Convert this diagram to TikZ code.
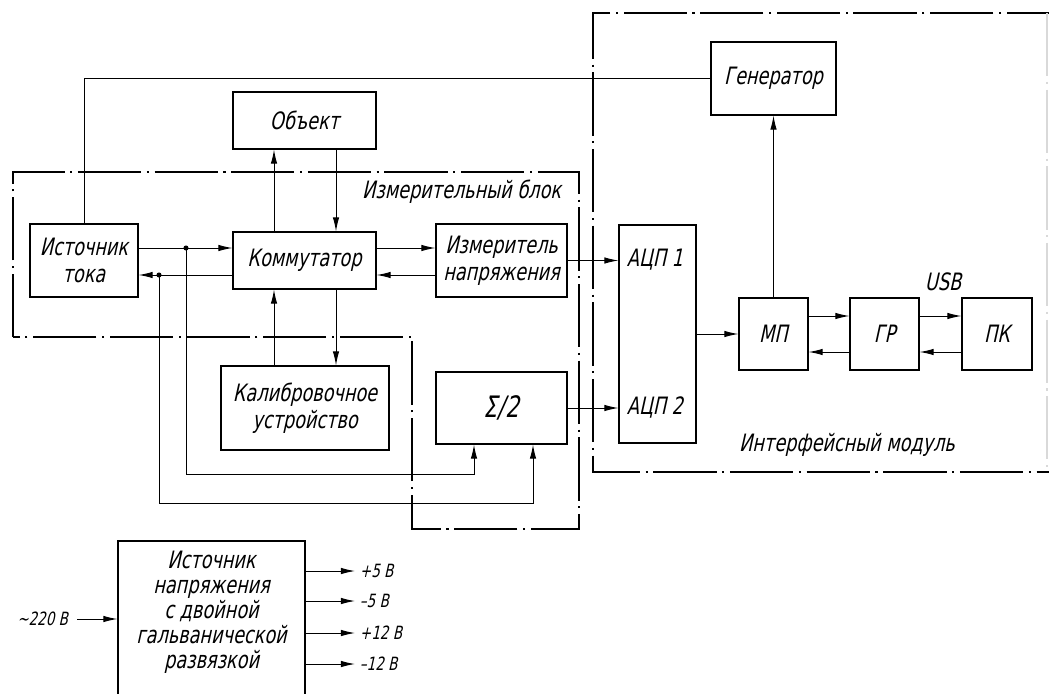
\documentclass[tikz,border=0pt]{standalone}
\usepackage{fontspec}
\setmainfont[FakeSlant=0.22,FakeStretch=0.74]{DejaVu Sans}
\usetikzlibrary{arrows.meta}

\begin{document}
\begin{tikzpicture}[x=0.025cm, y=-0.025cm,
    font=\fontsize{17}{19.5}\selectfont,
    blk/.style={draw, line width=0.8pt, inner sep=0pt, align=center},
    sz/.style 2 args={minimum width=#1*0.025cm, minimum height=#2*0.025cm},
    small/.style={font=\fontsize{13}{15}\selectfont},
    wire/.style={line width=0.7pt},
    arr/.style={wire, -{Latex[length=10pt,width=4.6pt]}},
    blockline/.style={line width=1.5pt, dash pattern=on 45pt off 4pt on 1.5pt off 4pt},
    jdot/.style={circle, fill, inner sep=0pt, minimum size=3.6pt}]
\clip (0,0) rectangle (1049,694);

% dash-dot frames
\draw[blockline] (13,337) -- (13,172) -- (579,172) -- (579,529) -- (412,529) -- (412,337) -- cycle;
\draw[blockline] (1070,13) -- (593,13) -- (593,472) -- (1070,472);
\draw[blockline, black!15, line width=1pt] (1047,13) -- (1047,472);

% measuring unit
\node[blk, sz={143}{57}] (obj) at (304.5,120.5) {Объект};
\node[blk, sz={108}{73}] (src) at (84,260.5) {Источник\\тока};
\node[blk, sz={143}{57}] (kom) at (304.5,260.5) {Коммутатор};
\node[blk, sz={131}{73}] (meas) at (501.5,260.5) {Измеритель\\напряжения};
\node[blk, sz={168}{84}] (cal) at (305,408) {Калибровочное\\устройство};
\node[blk, sz={131}{72}, font=\fontsize{21}{24}\selectfont] (sum) at (501.5,408) {Σ/2};
\node[anchor=east] (mbl) at (566,192) {Измерительный блок};

% interface module
\node[blk, sz={77}{218}] (adc) at (657.5,334) {};
\node[anchor=west] (adc1) at (622,260) {АЦП 1};
\node[anchor=west] (adc2) at (622,408) {АЦП 2};
\node[blk, sz={125}{73}] (gen) at (773.5,78.5) {Генератор};
\node[blk, sz={69}{72}] (mp) at (773.5,334) {МП};
\node[blk, sz={69}{72}] (gr) at (884.5,334) {ГР};
\node[blk, sz={70}{72}] (pc) at (997,334) {ПК};
\node (usb) at (943,282) {USB};
\node (ifm) at (847,445) {Интерфейсный модуль};

% power supply
\node[blk, sz={187}{160}] (psu) at (211.5,621) {};
\node[align=center, font=\fontsize{17}{17.8}\selectfont] (psutxt) at (211.5,612)
  {Источник\\напряжения\\с двойной\\гальванической\\развязкой};
\node[small, anchor=east] (ac) at (73,619) {\textasciitilde220 В};

% helper points
\coordinate (cL) at (274,0);
\coordinate (cR) at (336,0);
\coordinate (rA) at (0,248);
\coordinate (rB) at (0,275);
\coordinate (rU) at (0,316);
\coordinate (rD) at (0,352);
\coordinate (k1) at (474,474);
\coordinate (k2) at (533,503);
\node[jdot] (j1) at (186,248) {};
\node[jdot] (j2) at (159,275) {};

% links
\draw[wire] (gen.west) -| (src.north);
\draw[arr] (kom.north -| cL) -- (obj.south -| cL);
\draw[arr] (obj.south -| cR) -- (kom.north -| cR);
\draw[arr] (cal.north -| cL) -- (kom.south -| cL);
\draw[arr] (kom.south -| cR) -- (cal.north -| cR);
\draw[arr] (src.east |- rA) -- (kom.west |- rA);
\draw[arr] (kom.west |- rB) -- (src.east |- rB);
\draw[arr] (kom.east |- rA) -- (meas.west |- rA);
\draw[arr] (meas.west |- rB) -- (kom.east |- rB);
\draw[arr] (j1.center) |- (k1) -- (k1 |- sum.south);
\draw[arr] (j2.center) |- (k2) -- (k2 |- sum.south);
\draw[arr] (meas.east) -- (meas.east -| adc.west);
\draw[arr] (sum.east) -- (sum.east -| adc.west);
\draw[arr] (adc.east |- mp.west) -- (mp.west);
\draw[arr] (mp.north) -- (gen.south);
\draw[arr] (mp.east |- rU) -- (gr.west |- rU);
\draw[arr] (gr.west |- rD) -- (mp.east |- rD);
\draw[arr] (gr.east |- rU) -- (pc.west |- rU);
\draw[arr] (pc.west |- rD) -- (gr.east |- rD);
\draw[arr] ([xshift=3pt]ac.east) -- (ac.east -| psu.west);

% outputs
\foreach \i/\y/\t in {1/571/+5 В, 2/601/–5 В, 3/633/+12 В, 4/664/–12 В} {
  \node[small, anchor=west] (out\i) at (355,\y) {\t};
  \draw[arr] (psu.east |- out\i.west) -- (out\i.west);
}
\end{tikzpicture}
\end{document}
